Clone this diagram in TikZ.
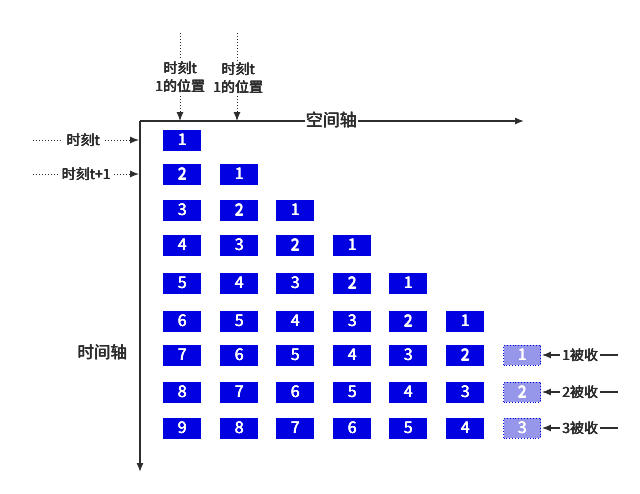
\documentclass[tikz,border=0pt]{standalone}
\usepackage{fontspec}
\setmainfont{Noto Sans CJK SC}
\usetikzlibrary{arrows.meta}
\definecolor{boxblue}{RGB}{0,0,225}
\definecolor{lightblue}{RGB}{150,150,235}
\definecolor{axisgray}{RGB}{45,45,45}
\newcommand{\fatt}[1]{\leavevmode\rlap{\hbox{\kern0.55pt#1}}\rlap{\hbox{\kern0.3pt\raise0.4pt\hbox{#1}}}\rlap{\hbox{\kern0.3pt\lower0.15pt\hbox{#1}}}\hbox{#1}}
\begin{document}
\begin{tikzpicture}[x=1pt,y=-1pt,
  cell/.style={fill=boxblue, text=white, minimum width=38pt, minimum height=21pt, inner sep=0pt, font=\fontsize{16}{16}\selectfont},
  gone/.style={fill=lightblue, draw=boxblue, dotted, line width=0.9pt, text=white, minimum width=37pt, minimum height=20pt, inner sep=0pt, font=\fontsize{16}{16}\selectfont},
  lbl/.style={font=\fontsize{14}{16}\selectfont, text=axisgray, inner sep=1pt},
  axis/.style={draw=axisgray, line width=1.3pt, -{Latex[length=9pt,width=7pt]}},
  dotarrow/.style={draw=axisgray, line width=1pt, dotted, -{Latex[length=9pt,width=7pt]}},
  solarrow/.style={draw=axisgray, line width=1.1pt, -{Latex[length=9pt,width=7pt]}},
]
\useasboundingbox (0,0) rectangle (640,493);
% axes
\coordinate (O) at (140,121);
\coordinate (Xe) at (524,121);
\coordinate (Ye) at (140,472);
\draw[axis] (O) -- (Xe);
\draw[axis] (O) -- (Ye);
\node[lbl, fill=white, font=\fontsize{17}{17}\selectfont] (sx) at (331,120) {\fatt{空间轴}};
\node[lbl, font=\fontsize{16.5}{17}\selectfont] (tl) at (102,352) {\fatt{时间轴}};
% top labels
\coordinate (t1s) at (180,33); \coordinate (t1e) at (180,121);
\coordinate (t2s) at (237,33); \coordinate (t2e) at (237,121);
\draw[dotarrow] (t1s) -- (t1e);
\draw[dotarrow] (t2s) -- (t2e);
\node[lbl, fill=white, align=center, font=\fontsize{14}{18}\selectfont] (tp1) at (180,77) {\fatt{时刻t}\\\fatt{1的位置}};
\node[lbl, fill=white, align=center, font=\fontsize{14}{18}\selectfont] (tp2) at (238,78) {\fatt{时刻t}\\\fatt{1的位置}};
% left labels
\coordinate (l1s) at (33,140); \coordinate (l1e) at (139,140);
\coordinate (l2s) at (33,174); \coordinate (l2e) at (139,174);
\draw[dotarrow] (l1s) -- (l1e);
\draw[dotarrow] (l2s) -- (l2e);
\node[lbl, fill=white, inner xsep=4pt] (lt1) at (83,140) {\fatt{时刻t}};
\node[lbl, fill=white, inner xsep=2pt] (lt2) at (86,174) {\fatt{时刻t+1}};
% cells
\def\colx{{182,239,295,352,408,465}}
\def\rowy{{140,174,210,245,283,321,355,392,428}}
\foreach \r in {1,...,9}{
  \pgfmathtruncatemacro{\cmax}{min(\r,6)}
  \foreach \c in {1,...,\cmax}{
    \pgfmathsetmacro{\xx}{\colx[\c-1]}
    \pgfmathsetmacro{\yy}{\rowy[\r-1]}
    \pgfmathtruncatemacro{\v}{\r-\c+1}
    \node[cell] (b\r-\c) at (\xx,\yy) {\fatt{\v}};
  }
}
% absorbed
\foreach \r/\n/\yy in {7/1/355, 8/2/392, 9/3/428}{
  \node[gone] (g\r) at (522,\yy) {\fatt{\n}};
  \coordinate (re\r) at (618,\yy);
  \draw[solarrow] (re\r) -- ([xshift=1pt]g\r.east);
  \node[lbl, fill=white, inner xsep=2pt] (gl\r) at (580,\yy) {\fatt{{\n}被收}};
}
\end{tikzpicture}
\end{document}
